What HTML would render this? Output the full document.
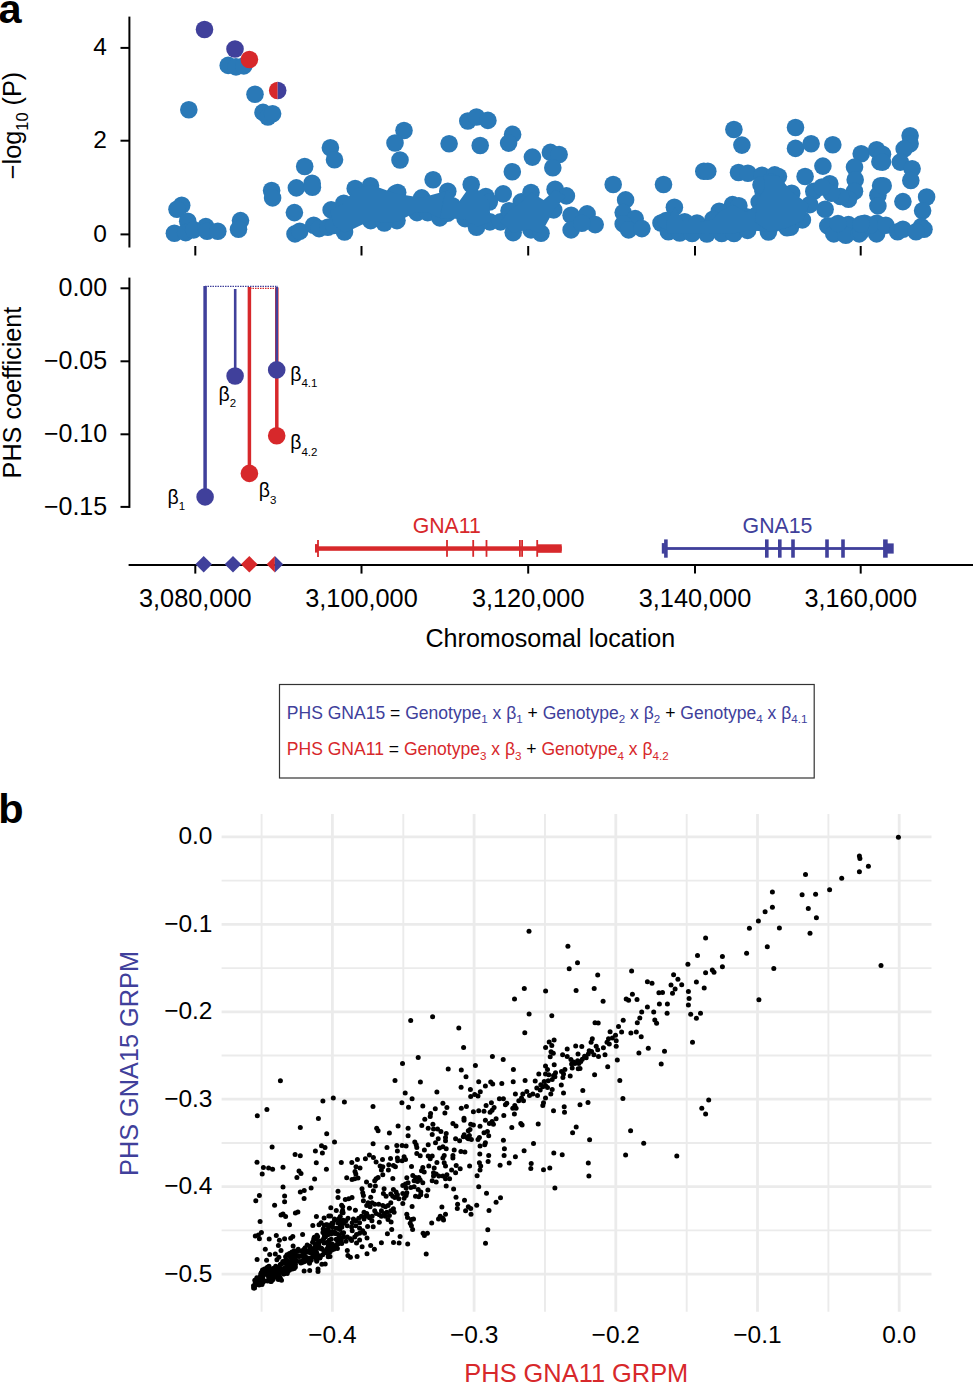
<!DOCTYPE html>
<html><head><meta charset="utf-8"><title>figure</title>
<style>html,body{margin:0;padding:0;background:#fff;width:973px;height:1383px;overflow:hidden}</style>
</head><body>
<svg width="973" height="1383" viewBox="0 0 973 1383" style="display:block">
<g font-family='"Liberation Sans", sans-serif'>
<text x="-1.5" y="23" font-size="41.5" font-weight="bold">a</text>
<text x="-1.7" y="823" font-size="41.5" font-weight="bold">b</text>
<g stroke="#000" stroke-width="2" fill="none">
<line x1="129.4" y1="16.6" x2="129.4" y2="247.5"/>
<line x1="120.5" y1="47.9" x2="129.3" y2="47.9"/>
<line x1="120.5" y1="140.7" x2="129.3" y2="140.7"/>
<line x1="120.5" y1="234.4" x2="129.3" y2="234.4"/>
<line x1="195.3" y1="246" x2="195.3" y2="255.5"/>
<line x1="361.5" y1="246" x2="361.5" y2="255.5"/>
<line x1="528.2" y1="246" x2="528.2" y2="255.5"/>
<line x1="695" y1="246" x2="695" y2="255.5"/>
<line x1="860.7" y1="246" x2="860.7" y2="255.5"/>
</g>
<g font-size="24.5" text-anchor="end">
<text x="106.9" y="55.2">4</text>
<text x="106.9" y="148.3">2</text>
<text x="106.9" y="242.0">0</text>
</g>
<text transform="translate(20.7,179.2) rotate(-90)" font-size="25.3">−log<tspan font-size="16.3" dy="7.4">10</tspan><tspan dy="-7.4"> (P)</tspan></text>
<g stroke="#000" stroke-width="2" fill="none">
<line x1="129.4" y1="277.6" x2="129.4" y2="507.9"/>
<line x1="120.5" y1="288.3" x2="129.3" y2="288.3"/>
<line x1="120.5" y1="361.3" x2="129.3" y2="361.3"/>
<line x1="120.5" y1="434.3" x2="129.3" y2="434.3"/>
<line x1="120.5" y1="506.9" x2="129.3" y2="506.9"/>
<line x1="128.6" y1="565" x2="973" y2="565" stroke-width="2"/>
<line x1="195.3" y1="565" x2="195.3" y2="573.6"/>
<line x1="361.5" y1="565" x2="361.5" y2="573.6"/>
<line x1="528.2" y1="565" x2="528.2" y2="573.6"/>
<line x1="695" y1="565" x2="695" y2="573.6"/>
<line x1="860.7" y1="565" x2="860.7" y2="573.6"/>
</g>
<g font-size="25" text-anchor="end">
<text x="107.2" y="296.2">0.00</text>
<text x="107.2" y="369.2">−0.05</text>
<text x="107.2" y="442.2">−0.10</text>
<text x="107.2" y="514.8">−0.15</text>
</g>
<text transform="translate(20.9,392.5) rotate(-90)" font-size="25.2" text-anchor="middle">PHS coefficient</text>
<g font-size="25.3" text-anchor="middle">
<text x="195.3" y="606.8">3,080,000</text>
<text x="361.5" y="606.8">3,100,000</text>
<text x="528.2" y="606.8">3,120,000</text>
<text x="695" y="606.8">3,140,000</text>
<text x="860.7" y="606.8">3,160,000</text>
<text x="550.3" y="646.7" font-size="25.1">Chromosomal location</text>
</g>
<line x1="205" y1="286.3" x2="278" y2="286.3" stroke="#40409b" stroke-width="1.2" stroke-dasharray="1.5 1"/>
<line x1="250" y1="288.3" x2="277.5" y2="288.3" stroke="#d7282b" stroke-width="1.2" stroke-dasharray="1.5 1"/>
<line x1="205.1" y1="286" x2="205.1" y2="497" stroke="#40409b" stroke-width="3.5"/>
<line x1="235.2" y1="289" x2="235.2" y2="376" stroke="#40409b" stroke-width="2.6"/>
<line x1="249.4" y1="287" x2="249.4" y2="473.4" stroke="#d7282b" stroke-width="3.5"/>
<line x1="276.8" y1="287.5" x2="276.8" y2="436" stroke="#d7282b" stroke-width="3.5"/>
<line x1="276.8" y1="287" x2="276.8" y2="370" stroke="#40409b" stroke-width="2.5"/>
<circle cx="205.1" cy="496.9" r="8.8" fill="#40409b"/>
<circle cx="235.1" cy="376" r="8.8" fill="#40409b"/>
<circle cx="249.4" cy="473.4" r="8.8" fill="#d7282b"/>
<circle cx="276.7" cy="369.9" r="8.8" fill="#40409b"/>
<circle cx="276.7" cy="435.7" r="8.8" fill="#d7282b"/>
<text x="167.5" y="503.5" font-size="19.5">β<tspan font-size="11.5" dy="6.5">1</tspan></text>
<text x="218.5" y="400.5" font-size="19.5">β<tspan font-size="11.5" dy="6.5">2</tspan></text>
<text x="258.7" y="497.3" font-size="19.5">β<tspan font-size="11.5" dy="6.5">3</tspan></text>
<text x="290.2" y="380.5" font-size="19.5">β<tspan font-size="11.5" dy="6.5">4.1</tspan></text>
<text x="290.2" y="449.3" font-size="19.5">β<tspan font-size="11.5" dy="6.5">4.2</tspan></text>
<g fill="#d7282b" stroke="none">
<rect x="318" y="546.3" width="243.7" height="4.5"/>
<rect x="315" y="544.1" width="3" height="8.5"/>
<rect x="317.1" y="540" width="1.8" height="17"/>
<rect x="446.1" y="540" width="1.8" height="16.8"/>
<rect x="472.3" y="540" width="1.8" height="16.8"/>
<rect x="485.6" y="540" width="1.8" height="16.8"/>
<rect x="519.0" y="540" width="1.8" height="16.8"/>
<rect x="521.2" y="540" width="1.8" height="16.8"/>
<rect x="536.3000000000001" y="540" width="1.8" height="16.8"/>
<rect x="537.2" y="544.3" width="24.5" height="8.5"/>
</g>
<text x="446.8" y="533" font-size="21.3" text-anchor="middle" fill="#d7282b">GNA11</text>
<g fill="#40409b" stroke="none">
<rect x="666" y="547.1" width="220" height="2.8"/>
<rect x="661.8" y="543.1" width="3" height="10.5"/>
<rect x="664.1" y="539.4" width="3.6" height="18.3"/>
<rect x="765.0" y="539.4" width="3.6" height="18.3"/>
<rect x="778.0" y="539.4" width="3.6" height="18.3"/>
<rect x="791.2" y="539.4" width="3.6" height="18.3"/>
<rect x="825.2" y="539.4" width="3.6" height="18.3"/>
<rect x="841.2" y="539.4" width="3.6" height="18.3"/>
<rect x="883.1" y="539.4" width="4.6" height="18.3"/>
<rect x="886" y="543.4" width="7.7" height="10.2"/>
</g>
<text x="777.5" y="533" font-size="21.3" text-anchor="middle" fill="#40409b">GNA15</text>
<path d="M195.39999999999998,564.3 L203.7,556.0 L212.0,564.3 L203.7,572.5999999999999 Z" fill="#40409b"/>
<path d="M224.7,564.3 L233,556.0 L241.3,564.3 L233,572.5999999999999 Z" fill="#40409b"/>
<path d="M241.0,564.3 L249.3,556.0 L257.6,564.3 L249.3,572.5999999999999 Z" fill="#d7282b"/>
<path d="M266.59999999999997,564.3 L274.9,556 L274.9,572.6 Z" fill="#d7282b"/>
<path d="M283.2,564.3 L274.9,556 L274.9,572.6 Z" fill="#40409b"/>
<rect x="279.5" y="684.5" width="534.7" height="93.5" fill="none" stroke="#333" stroke-width="1.2"/>
<text x="286.8" y="718.7" font-size="17.55" fill="#40409b">PHS GNA15 <tspan fill="#000">=</tspan> Genotype<tspan font-size="11.6" dy="4.5">1</tspan><tspan dy="-4.5"> x β<tspan font-size="11.6" dy="4.5">1</tspan><tspan dy="-4.5"> <tspan fill="#000">+</tspan> Genotype<tspan font-size="11.6" dy="4.5">2</tspan><tspan dy="-4.5"> x β<tspan font-size="11.6" dy="4.5">2</tspan><tspan dy="-4.5"> <tspan fill="#000">+</tspan> Genotype<tspan font-size="11.6" dy="4.5">4</tspan><tspan dy="-4.5"> x β<tspan font-size="11.6" dy="4.5">4.1</tspan><tspan dy="-4.5"></tspan></tspan></tspan></tspan></tspan></tspan></text>
<text x="286.8" y="755" font-size="17.55" fill="#d7282b">PHS GNA11 <tspan fill="#000">=</tspan> Genotype<tspan font-size="11.6" dy="4.5">3</tspan><tspan dy="-4.5"> x β<tspan font-size="11.6" dy="4.5">3</tspan><tspan dy="-4.5"> <tspan fill="#000">+</tspan> Genotype<tspan font-size="11.6" dy="4.5">4</tspan><tspan dy="-4.5"> x β<tspan font-size="11.6" dy="4.5">4.2</tspan><tspan dy="-4.5"></tspan></tspan></tspan></tspan></text>
<g stroke="#ebebeb" fill="none">
<line x1="221.6" y1="836.9" x2="931.5" y2="836.9" stroke-width="2.8"/>
<line x1="221.6" y1="924.4" x2="931.5" y2="924.4" stroke-width="2.8"/>
<line x1="221.6" y1="1011.8" x2="931.5" y2="1011.8" stroke-width="2.8"/>
<line x1="221.6" y1="1099.2" x2="931.5" y2="1099.2" stroke-width="2.8"/>
<line x1="221.6" y1="1186.7" x2="931.5" y2="1186.7" stroke-width="2.8"/>
<line x1="221.6" y1="1274.2" x2="931.5" y2="1274.2" stroke-width="2.8"/>
<line x1="221.6" y1="880.6" x2="931.5" y2="880.6" stroke-width="1.9"/>
<line x1="221.6" y1="968.1" x2="931.5" y2="968.1" stroke-width="1.9"/>
<line x1="221.6" y1="1055.5" x2="931.5" y2="1055.5" stroke-width="1.9"/>
<line x1="221.6" y1="1143.0" x2="931.5" y2="1143.0" stroke-width="1.9"/>
<line x1="221.6" y1="1230.4" x2="931.5" y2="1230.4" stroke-width="1.9"/>
<line x1="899.2" y1="814" x2="899.2" y2="1311.7" stroke-width="2.8"/>
<line x1="757.5" y1="814" x2="757.5" y2="1311.7" stroke-width="2.8"/>
<line x1="615.8" y1="814" x2="615.8" y2="1311.7" stroke-width="2.8"/>
<line x1="474.1" y1="814" x2="474.1" y2="1311.7" stroke-width="2.8"/>
<line x1="332.4" y1="814" x2="332.4" y2="1311.7" stroke-width="2.8"/>
<line x1="828.4" y1="814" x2="828.4" y2="1311.7" stroke-width="1.9"/>
<line x1="686.7" y1="814" x2="686.7" y2="1311.7" stroke-width="1.9"/>
<line x1="545.0" y1="814" x2="545.0" y2="1311.7" stroke-width="1.9"/>
<line x1="403.3" y1="814" x2="403.3" y2="1311.7" stroke-width="1.9"/>
<line x1="261.6" y1="814" x2="261.6" y2="1311.7" stroke-width="1.9"/>
</g>
<g font-size="24.5" text-anchor="end">
<text x="212.5" y="844.3">0.0</text>
<text x="212.5" y="931.8">−0.1</text>
<text x="212.5" y="1019.2">−0.2</text>
<text x="212.5" y="1106.7">−0.3</text>
<text x="212.5" y="1194.1">−0.4</text>
<text x="212.5" y="1281.6">−0.5</text>
</g>
<g font-size="24.5" text-anchor="middle">
<text x="899.2" y="1342.6">0.0</text>
<text x="757.5" y="1342.6">−0.1</text>
<text x="615.8" y="1342.6">−0.2</text>
<text x="474.1" y="1342.6">−0.3</text>
<text x="332.4" y="1342.6">−0.4</text>
</g>
<text transform="translate(138,1063.5) rotate(-90)" font-size="25.3" text-anchor="middle" fill="#40409b">PHS GNA15 GRPM</text>
<text x="576.3" y="1382" font-size="25.4" text-anchor="middle" fill="#d7282b">PHS GNA11 GRPM</text>
<g fill="#2a79b7">
<circle cx="228.2" cy="65.4" r="8.8"/>
<circle cx="236.0" cy="66.9" r="8.8"/>
<circle cx="243.8" cy="65.9" r="8.8"/>
<circle cx="255.0" cy="94.2" r="8.8"/>
<circle cx="263.0" cy="112.4" r="8.8"/>
<circle cx="267.9" cy="117.0" r="8.8"/>
<circle cx="272.6" cy="113.7" r="8.8"/>
<circle cx="188.8" cy="109.7" r="8.8"/>
<circle cx="271.6" cy="190.5" r="8.8"/>
<circle cx="272.6" cy="197.9" r="8.8"/>
<circle cx="181.7" cy="205.2" r="8.8"/>
<circle cx="177.0" cy="209.2" r="8.8"/>
<circle cx="187.7" cy="221.3" r="8.8"/>
<circle cx="174.4" cy="233.3" r="8.8"/>
<circle cx="185.7" cy="232.6" r="8.8"/>
<circle cx="193.7" cy="229.9" r="8.8"/>
<circle cx="205.8" cy="226.6" r="8.8"/>
<circle cx="207.1" cy="231.3" r="8.8"/>
<circle cx="217.8" cy="231.3" r="8.8"/>
<circle cx="240.5" cy="220.6" r="8.8"/>
<circle cx="238.5" cy="229.3" r="8.8"/>
<circle cx="330.4" cy="147.8" r="8.8"/>
<circle cx="334.5" cy="159.8" r="8.8"/>
<circle cx="304.7" cy="166.5" r="8.8"/>
<circle cx="296.4" cy="187.9" r="8.8"/>
<circle cx="312.1" cy="183.2" r="8.8"/>
<circle cx="312.4" cy="187.2" r="8.8"/>
<circle cx="294.4" cy="212.6" r="8.8"/>
<circle cx="295.0" cy="233.9" r="8.8"/>
<circle cx="299.7" cy="231.3" r="8.8"/>
<circle cx="313.7" cy="225.3" r="8.8"/>
<circle cx="319.1" cy="228.6" r="8.8"/>
<circle cx="327.8" cy="227.3" r="8.8"/>
<circle cx="331.1" cy="209.9" r="8.8"/>
<circle cx="343.8" cy="203.2" r="8.8"/>
<circle cx="344.5" cy="232.0" r="8.8"/>
<circle cx="355.2" cy="188.5" r="8.8"/>
<circle cx="370.5" cy="185.8" r="8.8"/>
<circle cx="361.8" cy="197.9" r="8.8"/>
<circle cx="404.0" cy="130.5" r="8.8"/>
<circle cx="395.0" cy="143.0" r="8.8"/>
<circle cx="400.0" cy="160.0" r="8.8"/>
<circle cx="395.2" cy="193.9" r="8.8"/>
<circle cx="449.1" cy="143.8" r="8.8"/>
<circle cx="467.8" cy="121.0" r="8.8"/>
<circle cx="476.5" cy="117.0" r="8.8"/>
<circle cx="487.9" cy="120.4" r="8.8"/>
<circle cx="480.2" cy="145.5" r="8.8"/>
<circle cx="512.6" cy="134.4" r="8.8"/>
<circle cx="508.6" cy="143.1" r="8.8"/>
<circle cx="532.4" cy="157.1" r="8.8"/>
<circle cx="512.3" cy="171.8" r="8.8"/>
<circle cx="433.1" cy="179.8" r="8.8"/>
<circle cx="471.2" cy="184.5" r="8.8"/>
<circle cx="447.8" cy="191.2" r="8.8"/>
<circle cx="503.2" cy="193.9" r="8.8"/>
<circle cx="485.8" cy="196.5" r="8.8"/>
<circle cx="421.7" cy="197.9" r="8.8"/>
<circle cx="397.7" cy="192.5" r="8.8"/>
<circle cx="397.0" cy="220.6" r="8.8"/>
<circle cx="417.0" cy="212.6" r="8.8"/>
<circle cx="427.7" cy="212.6" r="8.8"/>
<circle cx="439.8" cy="217.9" r="8.8"/>
<circle cx="451.1" cy="208.6" r="8.8"/>
<circle cx="465.1" cy="218.6" r="8.8"/>
<circle cx="476.5" cy="227.3" r="8.8"/>
<circle cx="489.9" cy="221.9" r="8.8"/>
<circle cx="500.5" cy="221.9" r="8.8"/>
<circle cx="513.2" cy="232.6" r="8.8"/>
<circle cx="443.1" cy="201.9" r="8.8"/>
<circle cx="521.3" cy="201.9" r="8.8"/>
<circle cx="550.4" cy="152.4" r="8.8"/>
<circle cx="559.1" cy="154.5" r="8.8"/>
<circle cx="552.8" cy="167.8" r="8.8"/>
<circle cx="531.0" cy="192.5" r="8.8"/>
<circle cx="555.1" cy="189.2" r="8.8"/>
<circle cx="566.4" cy="195.9" r="8.8"/>
<circle cx="613.2" cy="184.5" r="8.8"/>
<circle cx="625.6" cy="199.9" r="8.8"/>
<circle cx="623.2" cy="212.6" r="8.8"/>
<circle cx="635.2" cy="218.6" r="8.8"/>
<circle cx="623.2" cy="223.9" r="8.8"/>
<circle cx="628.6" cy="229.9" r="8.8"/>
<circle cx="641.9" cy="228.6" r="8.8"/>
<circle cx="523.0" cy="204.6" r="8.8"/>
<circle cx="532.4" cy="208.6" r="8.8"/>
<circle cx="541.7" cy="211.2" r="8.8"/>
<circle cx="553.7" cy="209.9" r="8.8"/>
<circle cx="531.0" cy="229.9" r="8.8"/>
<circle cx="541.0" cy="233.3" r="8.8"/>
<circle cx="523.0" cy="219.2" r="8.8"/>
<circle cx="571.1" cy="215.2" r="8.8"/>
<circle cx="571.1" cy="229.9" r="8.8"/>
<circle cx="587.1" cy="213.9" r="8.8"/>
<circle cx="595.2" cy="224.6" r="8.8"/>
<circle cx="581.8" cy="223.3" r="8.8"/>
<circle cx="733.9" cy="129.5" r="8.8"/>
<circle cx="741.9" cy="145.1" r="8.8"/>
<circle cx="703.8" cy="171.2" r="8.8"/>
<circle cx="707.8" cy="171.2" r="8.8"/>
<circle cx="663.5" cy="184.5" r="8.8"/>
<circle cx="738.5" cy="172.5" r="8.8"/>
<circle cx="747.9" cy="173.2" r="8.8"/>
<circle cx="761.9" cy="175.2" r="8.8"/>
<circle cx="674.4" cy="207.2" r="8.8"/>
<circle cx="732.5" cy="204.6" r="8.8"/>
<circle cx="719.2" cy="211.2" r="8.8"/>
<circle cx="759.2" cy="201.9" r="8.8"/>
<circle cx="795.5" cy="127.5" r="8.8"/>
<circle cx="795.5" cy="148.4" r="8.8"/>
<circle cx="811.1" cy="143.8" r="8.8"/>
<circle cx="832.8" cy="144.7" r="8.8"/>
<circle cx="822.9" cy="166.1" r="8.8"/>
<circle cx="805.1" cy="176.5" r="8.8"/>
<circle cx="778.4" cy="176.5" r="8.8"/>
<circle cx="791.7" cy="193.2" r="8.8"/>
<circle cx="763.0" cy="191.2" r="8.8"/>
<circle cx="829.8" cy="183.8" r="8.8"/>
<circle cx="813.8" cy="191.2" r="8.8"/>
<circle cx="825.1" cy="209.2" r="8.8"/>
<circle cx="809.8" cy="204.6" r="8.8"/>
<circle cx="802.4" cy="219.9" r="8.8"/>
<circle cx="768.4" cy="232.0" r="8.8"/>
<circle cx="790.4" cy="227.3" r="8.8"/>
<circle cx="861.2" cy="153.8" r="8.8"/>
<circle cx="876.6" cy="149.8" r="8.8"/>
<circle cx="879.9" cy="161.8" r="8.8"/>
<circle cx="854.5" cy="167.1" r="8.8"/>
<circle cx="855.2" cy="179.8" r="8.8"/>
<circle cx="854.5" cy="191.2" r="8.8"/>
<circle cx="848.5" cy="199.2" r="8.8"/>
<circle cx="840.5" cy="196.5" r="8.8"/>
<circle cx="880.6" cy="185.8" r="8.8"/>
<circle cx="877.9" cy="195.2" r="8.8"/>
<circle cx="877.9" cy="205.9" r="8.8"/>
<circle cx="827.8" cy="225.9" r="8.8"/>
<circle cx="833.8" cy="233.9" r="8.8"/>
<circle cx="848.5" cy="224.6" r="8.8"/>
<circle cx="845.8" cy="235.3" r="8.8"/>
<circle cx="859.2" cy="233.9" r="8.8"/>
<circle cx="864.6" cy="223.3" r="8.8"/>
<circle cx="876.6" cy="223.3" r="8.8"/>
<circle cx="876.6" cy="233.9" r="8.8"/>
<circle cx="910.1" cy="135.8" r="8.8"/>
<circle cx="910.1" cy="143.7" r="8.8"/>
<circle cx="904.2" cy="148.9" r="8.8"/>
<circle cx="900.3" cy="162.1" r="8.8"/>
<circle cx="912.1" cy="168.7" r="8.8"/>
<circle cx="910.8" cy="180.5" r="8.8"/>
<circle cx="882.5" cy="154.2" r="8.8"/>
<circle cx="882.5" cy="162.1" r="8.8"/>
<circle cx="883.2" cy="185.8" r="8.8"/>
<circle cx="902.9" cy="201.6" r="8.8"/>
<circle cx="926.6" cy="197.0" r="8.8"/>
<circle cx="922.6" cy="210.8" r="8.8"/>
<circle cx="921.3" cy="226.6" r="8.8"/>
<circle cx="924.0" cy="229.2" r="8.8"/>
<circle cx="860.8" cy="231.8" r="8.8"/>
<circle cx="870.0" cy="225.3" r="8.8"/>
<circle cx="885.8" cy="225.3" r="8.8"/>
<circle cx="897.6" cy="231.8" r="8.8"/>
<circle cx="902.9" cy="229.2" r="8.8"/>
<circle cx="916.0" cy="231.8" r="8.8"/>
<circle cx="370.7" cy="220.6" r="8.8"/>
<circle cx="384.3" cy="223.0" r="8.8"/>
<circle cx="359.6" cy="215.6" r="8.8"/>
<circle cx="333.7" cy="225.5" r="8.8"/>
<circle cx="375.6" cy="199.6" r="8.8"/>
<circle cx="383.0" cy="207.0" r="8.8"/>
<circle cx="399.0" cy="204.5" r="8.8"/>
<circle cx="409.0" cy="205.8" r="8.8"/>
<circle cx="364.5" cy="207.0" r="8.8"/>
<circle cx="516.5" cy="216.9" r="8.8"/>
<circle cx="533.7" cy="216.9" r="8.8"/>
<circle cx="452.3" cy="205.8" r="8.8"/>
<circle cx="468.4" cy="205.8" r="8.8"/>
<circle cx="480.7" cy="207.0" r="8.8"/>
<circle cx="509.0" cy="210.7" r="8.8"/>
<circle cx="489.3" cy="202.0" r="8.8"/>
<circle cx="447.4" cy="213.2" r="8.8"/>
<circle cx="661.0" cy="223.0" r="8.8"/>
<circle cx="668.4" cy="231.7" r="8.8"/>
<circle cx="774.7" cy="174.9" r="8.8"/>
<circle cx="738.9" cy="205.7" r="8.8"/>
<circle cx="771.0" cy="182.3" r="8.8"/>
<circle cx="679.7" cy="233.0" r="8.8"/>
<circle cx="692.1" cy="233.5" r="8.8"/>
<circle cx="706.9" cy="234.0" r="8.8"/>
<circle cx="721.7" cy="233.5" r="8.8"/>
<circle cx="734.0" cy="233.5" r="8.8"/>
<circle cx="747.6" cy="230.4" r="8.8"/>
<circle cx="666.2" cy="220.5" r="8.8"/>
<circle cx="684.7" cy="221.7" r="8.8"/>
<circle cx="697.0" cy="223.0" r="8.8"/>
<circle cx="713.0" cy="219.3" r="8.8"/>
<circle cx="729.1" cy="218.0" r="8.8"/>
<circle cx="746.3" cy="216.8" r="8.8"/>
<circle cx="762.4" cy="216.8" r="8.8"/>
<circle cx="774.7" cy="223.0" r="8.8"/>
<circle cx="831.4" cy="193.3" r="8.8"/>
<circle cx="768.5" cy="194.5" r="8.8"/>
<circle cx="764.8" cy="188.4" r="8.8"/>
<circle cx="774.7" cy="209.3" r="8.8"/>
<circle cx="790.7" cy="208.1" r="8.8"/>
<circle cx="754.9" cy="221.7" r="8.8"/>
<circle cx="787.0" cy="227.8" r="8.8"/>
<circle cx="778.4" cy="218.0" r="8.8"/>
<circle cx="861.0" cy="224.1" r="8.8"/>
<circle cx="761.0" cy="184.7" r="8.8"/>
<circle cx="838.0" cy="223.5" r="8.8"/>
<circle cx="822.0" cy="187.0" r="8.8"/>
<path d="M330,210.7 L343.6,203.3 L355.3,188.5 L371.3,184.8 L395.4,193.4 L421.3,197.8 L445.9,191 L442.2,203.3 L439.8,218.1 L427.4,212.5 L416.3,211.9 L397.2,221.8 L384.3,223 L370.7,220.6 L344.8,232.9 L333.7,225.5 Z"/>
<path d="M445.9,191 L448,190.4 L458,203 L471.4,184.2 L485.6,196.5 L489.3,202 L490.6,221.8 L477,226.7 L464.7,219.3 L440,218.1 Z"/>
<path d="M509,210.7 L521.4,202.1 L531.3,192.2 L543.6,200 L555.3,189.7 L566,195.9 L554.3,209.5 L541.1,233.5 L528.8,229.2 L512.8,232.9 L500.4,221.8 Z"/>
<path d="M666.2,222 L674.8,206.9 L684,222 L700,222 L713,219.3 L719.2,211.9 L732.8,204.5 L746,212 L759.9,202 L764.8,189.7 L771,182.3 L778.4,176 L791.9,192.1 L790.7,208.1 L803,220.4 L787,227.8 L768.5,231.5 L747.6,230.4 L734,233.5 L706.9,234 L679.7,233 L667.4,233.5 Z"/>
<path d="M757.4,200.7 L764.8,188.4 L763.6,174.8 L778.4,176 L791.9,192.1 L809.2,204.4 L803,220.4 L787,227.8 L768.5,231.5 L754.9,221.7 Z"/>
</g>
<circle cx="204.5" cy="29.5" r="8.8" fill="#40409b"/>
<circle cx="235" cy="49" r="8.8" fill="#40409b"/>
<circle cx="249.4" cy="59.5" r="8.8" fill="#d7282b"/>
<path d="M277.7,81.7 A8.8,8.8 0 0 0 277.7,99.3 Z" fill="#d7282b"/>
<path d="M277.7,81.7 A8.8,8.8 0 0 1 277.7,99.3 Z" fill="#40409b"/>
<g fill="#000">
<circle cx="898.4" cy="837.3" r="2.5"/>
<circle cx="859.4" cy="856.1" r="2.5"/>
<circle cx="859.9" cy="858.4" r="2.5"/>
<circle cx="868.4" cy="866.2" r="2.5"/>
<circle cx="859.4" cy="871.8" r="2.5"/>
<circle cx="841.7" cy="878.3" r="2.5"/>
<circle cx="805.5" cy="874.4" r="2.5"/>
<circle cx="829.6" cy="889.8" r="2.5"/>
<circle cx="772.4" cy="892.0" r="2.5"/>
<circle cx="802.1" cy="894.8" r="2.5"/>
<circle cx="815.6" cy="894.3" r="2.5"/>
<circle cx="772.4" cy="907.2" r="2.5"/>
<circle cx="765.1" cy="911.7" r="2.5"/>
<circle cx="808.3" cy="908.6" r="2.5"/>
<circle cx="816.4" cy="917.8" r="2.5"/>
<circle cx="758.4" cy="920.9" r="2.5"/>
<circle cx="749.4" cy="928.2" r="2.5"/>
<circle cx="779.4" cy="927.9" r="2.5"/>
<circle cx="810.0" cy="933.3" r="2.5"/>
<circle cx="705.6" cy="938.0" r="2.5"/>
<circle cx="767.3" cy="946.7" r="2.5"/>
<circle cx="746.6" cy="953.2" r="2.5"/>
<circle cx="722.4" cy="956.6" r="2.5"/>
<circle cx="722.4" cy="966.7" r="2.5"/>
<circle cx="712.3" cy="970.0" r="2.5"/>
<circle cx="714.0" cy="972.3" r="2.5"/>
<circle cx="705.6" cy="972.8" r="2.5"/>
<circle cx="773.8" cy="968.4" r="2.5"/>
<circle cx="881.0" cy="965.5" r="2.5"/>
<circle cx="704.2" cy="988.0" r="2.5"/>
<circle cx="758.9" cy="999.8" r="2.5"/>
<circle cx="697.5" cy="955.5" r="2.5"/>
<circle cx="687.9" cy="964.2" r="2.5"/>
<circle cx="673.6" cy="974.7" r="2.5"/>
<circle cx="677.9" cy="979.3" r="2.5"/>
<circle cx="681.7" cy="984.7" r="2.5"/>
<circle cx="671.0" cy="985.1" r="2.5"/>
<circle cx="675.1" cy="988.9" r="2.5"/>
<circle cx="672.5" cy="993.2" r="2.5"/>
<circle cx="696.4" cy="982.0" r="2.5"/>
<circle cx="688.4" cy="991.4" r="2.5"/>
<circle cx="689.1" cy="998.6" r="2.5"/>
<circle cx="688.4" cy="1005.1" r="2.5"/>
<circle cx="690.7" cy="1014.3" r="2.5"/>
<circle cx="696.4" cy="1018.3" r="2.5"/>
<circle cx="700.5" cy="1013.3" r="2.5"/>
<circle cx="631.6" cy="970.9" r="2.5"/>
<circle cx="647.4" cy="981.7" r="2.5"/>
<circle cx="652.0" cy="983.2" r="2.5"/>
<circle cx="658.9" cy="992.8" r="2.5"/>
<circle cx="662.5" cy="992.5" r="2.5"/>
<circle cx="632.4" cy="994.3" r="2.5"/>
<circle cx="626.2" cy="999.1" r="2.5"/>
<circle cx="628.6" cy="1000.2" r="2.5"/>
<circle cx="637.0" cy="999.4" r="2.5"/>
<circle cx="659.4" cy="1004.0" r="2.5"/>
<circle cx="667.4" cy="1004.0" r="2.5"/>
<circle cx="667.1" cy="1013.3" r="2.5"/>
<circle cx="647.4" cy="1007.1" r="2.5"/>
<circle cx="641.7" cy="1012.0" r="2.5"/>
<circle cx="653.7" cy="1012.0" r="2.5"/>
<circle cx="639.8" cy="1017.9" r="2.5"/>
<circle cx="637.3" cy="1022.8" r="2.5"/>
<circle cx="654.8" cy="1019.9" r="2.5"/>
<circle cx="656.6" cy="1023.3" r="2.5"/>
<circle cx="597.7" cy="975.0" r="2.5"/>
<circle cx="594.2" cy="988.6" r="2.5"/>
<circle cx="603.1" cy="1001.2" r="2.5"/>
<circle cx="595.0" cy="1022.8" r="2.5"/>
<circle cx="598.2" cy="1023.0" r="2.5"/>
<circle cx="623.2" cy="1020.2" r="2.5"/>
<circle cx="618.5" cy="1026.4" r="2.5"/>
<circle cx="610.1" cy="1031.8" r="2.5"/>
<circle cx="621.6" cy="1032.1" r="2.5"/>
<circle cx="630.9" cy="1033.0" r="2.5"/>
<circle cx="636.3" cy="1032.1" r="2.5"/>
<circle cx="641.2" cy="1036.7" r="2.5"/>
<circle cx="615.5" cy="1035.3" r="2.5"/>
<circle cx="612.4" cy="1037.9" r="2.5"/>
<circle cx="608.5" cy="1038.7" r="2.5"/>
<circle cx="592.3" cy="1038.7" r="2.5"/>
<circle cx="529.0" cy="931.3" r="2.5"/>
<circle cx="567.9" cy="946.3" r="2.5"/>
<circle cx="577.5" cy="962.8" r="2.5"/>
<circle cx="569.2" cy="968.8" r="2.5"/>
<circle cx="524.3" cy="988.6" r="2.5"/>
<circle cx="545.6" cy="990.9" r="2.5"/>
<circle cx="576.1" cy="990.6" r="2.5"/>
<circle cx="514.5" cy="999.0" r="2.5"/>
<circle cx="432.6" cy="1016.8" r="2.5"/>
<circle cx="529.1" cy="1014.0" r="2.5"/>
<circle cx="551.8" cy="1015.8" r="2.5"/>
<circle cx="458.8" cy="1027.9" r="2.5"/>
<circle cx="524.8" cy="1032.8" r="2.5"/>
<circle cx="463.6" cy="1047.4" r="2.5"/>
<circle cx="554.1" cy="1039.9" r="2.5"/>
<circle cx="549.2" cy="1042.0" r="2.5"/>
<circle cx="551.8" cy="1045.6" r="2.5"/>
<circle cx="545.6" cy="1047.4" r="2.5"/>
<circle cx="567.2" cy="1049.0" r="2.5"/>
<circle cx="575.7" cy="1046.1" r="2.5"/>
<circle cx="551.0" cy="1051.8" r="2.5"/>
<circle cx="553.3" cy="1053.3" r="2.5"/>
<circle cx="550.2" cy="1056.7" r="2.5"/>
<circle cx="492.4" cy="1056.4" r="2.5"/>
<circle cx="503.2" cy="1059.5" r="2.5"/>
<circle cx="562.6" cy="1054.8" r="2.5"/>
<circle cx="567.2" cy="1056.4" r="2.5"/>
<circle cx="578.0" cy="1054.1" r="2.5"/>
<circle cx="607.0" cy="1042.3" r="2.5"/>
<circle cx="609.3" cy="1043.9" r="2.5"/>
<circle cx="616.2" cy="1040.8" r="2.5"/>
<circle cx="616.2" cy="1046.2" r="2.5"/>
<circle cx="591.1" cy="1042.3" r="2.5"/>
<circle cx="581.8" cy="1046.6" r="2.5"/>
<circle cx="596.2" cy="1046.2" r="2.5"/>
<circle cx="597.7" cy="1049.7" r="2.5"/>
<circle cx="603.4" cy="1047.7" r="2.5"/>
<circle cx="589.2" cy="1050.8" r="2.5"/>
<circle cx="591.6" cy="1051.6" r="2.5"/>
<circle cx="593.9" cy="1054.7" r="2.5"/>
<circle cx="598.5" cy="1056.5" r="2.5"/>
<circle cx="605.0" cy="1054.7" r="2.5"/>
<circle cx="584.6" cy="1056.2" r="2.5"/>
<circle cx="586.2" cy="1057.7" r="2.5"/>
<circle cx="582.3" cy="1059.3" r="2.5"/>
<circle cx="580.8" cy="1061.6" r="2.5"/>
<circle cx="580.0" cy="1068.5" r="2.5"/>
<circle cx="648.3" cy="1048.2" r="2.5"/>
<circle cx="638.9" cy="1053.1" r="2.5"/>
<circle cx="664.5" cy="1051.3" r="2.5"/>
<circle cx="692.5" cy="1042.3" r="2.5"/>
<circle cx="617.3" cy="1060.1" r="2.5"/>
<circle cx="607.7" cy="1066.7" r="2.5"/>
<circle cx="661.2" cy="1063.9" r="2.5"/>
<circle cx="594.6" cy="1074.7" r="2.5"/>
<circle cx="619.8" cy="1080.4" r="2.5"/>
<circle cx="582.8" cy="1090.6" r="2.5"/>
<circle cx="622.9" cy="1098.6" r="2.5"/>
<circle cx="588.0" cy="1102.5" r="2.5"/>
<circle cx="580.0" cy="1104.8" r="2.5"/>
<circle cx="708.7" cy="1100.1" r="2.5"/>
<circle cx="701.8" cy="1108.2" r="2.5"/>
<circle cx="705.6" cy="1114.0" r="2.5"/>
<circle cx="630.6" cy="1130.7" r="2.5"/>
<circle cx="589.6" cy="1139.8" r="2.5"/>
<circle cx="643.7" cy="1143.3" r="2.5"/>
<circle cx="570.9" cy="1059.4" r="2.5"/>
<circle cx="573.6" cy="1062.1" r="2.5"/>
<circle cx="577.6" cy="1060.7" r="2.5"/>
<circle cx="588.3" cy="1054.0" r="2.5"/>
<circle cx="571.6" cy="1064.1" r="2.5"/>
<circle cx="574.9" cy="1063.4" r="2.5"/>
<circle cx="578.9" cy="1063.4" r="2.5"/>
<circle cx="572.2" cy="1068.1" r="2.5"/>
<circle cx="578.2" cy="1068.7" r="2.5"/>
<circle cx="475.4" cy="1065.4" r="2.5"/>
<circle cx="461.3" cy="1070.1" r="2.5"/>
<circle cx="513.4" cy="1069.4" r="2.5"/>
<circle cx="545.5" cy="1066.1" r="2.5"/>
<circle cx="547.5" cy="1069.4" r="2.5"/>
<circle cx="554.2" cy="1064.7" r="2.5"/>
<circle cx="466.0" cy="1076.8" r="2.5"/>
<circle cx="538.8" cy="1074.1" r="2.5"/>
<circle cx="545.5" cy="1074.1" r="2.5"/>
<circle cx="548.8" cy="1074.8" r="2.5"/>
<circle cx="553.5" cy="1075.4" r="2.5"/>
<circle cx="555.5" cy="1072.8" r="2.5"/>
<circle cx="561.5" cy="1071.4" r="2.5"/>
<circle cx="564.9" cy="1069.4" r="2.5"/>
<circle cx="563.5" cy="1074.1" r="2.5"/>
<circle cx="562.9" cy="1077.4" r="2.5"/>
<circle cx="570.2" cy="1076.1" r="2.5"/>
<circle cx="478.7" cy="1081.8" r="2.5"/>
<circle cx="490.7" cy="1082.1" r="2.5"/>
<circle cx="492.7" cy="1084.1" r="2.5"/>
<circle cx="485.4" cy="1086.1" r="2.5"/>
<circle cx="501.8" cy="1083.4" r="2.5"/>
<circle cx="513.2" cy="1081.8" r="2.5"/>
<circle cx="525.1" cy="1080.4" r="2.5"/>
<circle cx="535.2" cy="1081.0" r="2.5"/>
<circle cx="544.2" cy="1081.4" r="2.5"/>
<circle cx="548.2" cy="1080.8" r="2.5"/>
<circle cx="552.2" cy="1079.4" r="2.5"/>
<circle cx="554.9" cy="1076.8" r="2.5"/>
<circle cx="540.8" cy="1084.8" r="2.5"/>
<circle cx="542.8" cy="1086.8" r="2.5"/>
<circle cx="545.5" cy="1085.4" r="2.5"/>
<circle cx="536.8" cy="1088.1" r="2.5"/>
<circle cx="540.2" cy="1090.1" r="2.5"/>
<circle cx="547.5" cy="1087.4" r="2.5"/>
<circle cx="552.2" cy="1089.5" r="2.5"/>
<circle cx="561.3" cy="1085.0" r="2.5"/>
<circle cx="461.1" cy="1087.2" r="2.5"/>
<circle cx="470.4" cy="1089.5" r="2.5"/>
<circle cx="480.3" cy="1091.7" r="2.5"/>
<circle cx="474.7" cy="1094.4" r="2.5"/>
<circle cx="478.0" cy="1096.1" r="2.5"/>
<circle cx="470.7" cy="1096.5" r="2.5"/>
<circle cx="515.4" cy="1094.1" r="2.5"/>
<circle cx="522.8" cy="1094.1" r="2.5"/>
<circle cx="526.8" cy="1091.5" r="2.5"/>
<circle cx="529.5" cy="1095.5" r="2.5"/>
<circle cx="532.8" cy="1094.1" r="2.5"/>
<circle cx="537.5" cy="1095.5" r="2.5"/>
<circle cx="550.8" cy="1094.1" r="2.5"/>
<circle cx="563.5" cy="1093.1" r="2.5"/>
<circle cx="499.4" cy="1098.8" r="2.5"/>
<circle cx="503.4" cy="1098.8" r="2.5"/>
<circle cx="521.5" cy="1098.1" r="2.5"/>
<circle cx="518.8" cy="1100.8" r="2.5"/>
<circle cx="523.5" cy="1100.8" r="2.5"/>
<circle cx="545.5" cy="1098.1" r="2.5"/>
<circle cx="491.4" cy="1102.8" r="2.5"/>
<circle cx="506.8" cy="1103.2" r="2.5"/>
<circle cx="505.4" cy="1104.8" r="2.5"/>
<circle cx="543.5" cy="1102.8" r="2.5"/>
<circle cx="542.8" cy="1105.5" r="2.5"/>
<circle cx="466.4" cy="1106.4" r="2.5"/>
<circle cx="486.1" cy="1105.5" r="2.5"/>
<circle cx="494.1" cy="1107.5" r="2.5"/>
<circle cx="492.1" cy="1110.2" r="2.5"/>
<circle cx="490.1" cy="1112.2" r="2.5"/>
<circle cx="514.8" cy="1105.5" r="2.5"/>
<circle cx="512.8" cy="1108.2" r="2.5"/>
<circle cx="516.1" cy="1108.2" r="2.5"/>
<circle cx="461.3" cy="1108.2" r="2.5"/>
<circle cx="473.4" cy="1111.8" r="2.5"/>
<circle cx="478.7" cy="1110.8" r="2.5"/>
<circle cx="484.0" cy="1111.2" r="2.5"/>
<circle cx="564.2" cy="1106.8" r="2.5"/>
<circle cx="564.5" cy="1112.2" r="2.5"/>
<circle cx="553.5" cy="1110.8" r="2.5"/>
<circle cx="514.4" cy="1113.9" r="2.5"/>
<circle cx="503.8" cy="1115.5" r="2.5"/>
<circle cx="464.0" cy="1118.2" r="2.5"/>
<circle cx="464.0" cy="1120.2" r="2.5"/>
<circle cx="485.4" cy="1120.2" r="2.5"/>
<circle cx="492.1" cy="1121.5" r="2.5"/>
<circle cx="496.1" cy="1118.8" r="2.5"/>
<circle cx="489.4" cy="1123.5" r="2.5"/>
<circle cx="493.4" cy="1124.2" r="2.5"/>
<circle cx="470.7" cy="1124.2" r="2.5"/>
<circle cx="473.4" cy="1124.9" r="2.5"/>
<circle cx="480.0" cy="1126.2" r="2.5"/>
<circle cx="520.8" cy="1123.5" r="2.5"/>
<circle cx="522.1" cy="1124.9" r="2.5"/>
<circle cx="538.2" cy="1123.9" r="2.5"/>
<circle cx="511.8" cy="1127.5" r="2.5"/>
<circle cx="576.2" cy="1126.9" r="2.5"/>
<circle cx="418.2" cy="1057.4" r="2.5"/>
<circle cx="402.5" cy="1063.4" r="2.5"/>
<circle cx="448.2" cy="1069.0" r="2.5"/>
<circle cx="395.0" cy="1080.5" r="2.5"/>
<circle cx="420.4" cy="1082.1" r="2.5"/>
<circle cx="405.2" cy="1093.1" r="2.5"/>
<circle cx="436.9" cy="1092.1" r="2.5"/>
<circle cx="412.1" cy="1098.8" r="2.5"/>
<circle cx="344.4" cy="1102.1" r="2.5"/>
<circle cx="373.0" cy="1106.4" r="2.5"/>
<circle cx="401.9" cy="1102.8" r="2.5"/>
<circle cx="408.5" cy="1107.2" r="2.5"/>
<circle cx="422.8" cy="1105.9" r="2.5"/>
<circle cx="442.9" cy="1103.2" r="2.5"/>
<circle cx="446.9" cy="1107.5" r="2.5"/>
<circle cx="435.3" cy="1108.8" r="2.5"/>
<circle cx="430.6" cy="1113.5" r="2.5"/>
<circle cx="430.2" cy="1116.6" r="2.5"/>
<circle cx="444.9" cy="1113.1" r="2.5"/>
<circle cx="424.8" cy="1119.2" r="2.5"/>
<circle cx="452.9" cy="1123.5" r="2.5"/>
<circle cx="456.0" cy="1125.9" r="2.5"/>
<circle cx="421.8" cy="1125.4" r="2.5"/>
<circle cx="432.9" cy="1124.2" r="2.5"/>
<circle cx="398.1" cy="1125.9" r="2.5"/>
<circle cx="408.1" cy="1128.2" r="2.5"/>
<circle cx="376.7" cy="1128.2" r="2.5"/>
<circle cx="428.2" cy="1128.2" r="2.5"/>
<circle cx="433.5" cy="1128.9" r="2.5"/>
<circle cx="437.5" cy="1128.9" r="2.5"/>
<circle cx="378.1" cy="1130.7" r="2.5"/>
<circle cx="389.4" cy="1133.0" r="2.5"/>
<circle cx="408.1" cy="1135.8" r="2.5"/>
<circle cx="440.9" cy="1131.4" r="2.5"/>
<circle cx="432.2" cy="1134.4" r="2.5"/>
<circle cx="446.2" cy="1133.4" r="2.5"/>
<circle cx="445.5" cy="1137.4" r="2.5"/>
<circle cx="445.5" cy="1140.7" r="2.5"/>
<circle cx="438.2" cy="1138.7" r="2.5"/>
<circle cx="435.5" cy="1142.7" r="2.5"/>
<circle cx="464.2" cy="1134.7" r="2.5"/>
<circle cx="468.3" cy="1130.7" r="2.5"/>
<circle cx="466.9" cy="1137.4" r="2.5"/>
<circle cx="455.6" cy="1138.7" r="2.5"/>
<circle cx="459.6" cy="1140.7" r="2.5"/>
<circle cx="468.3" cy="1138.7" r="2.5"/>
<circle cx="373.1" cy="1143.8" r="2.5"/>
<circle cx="387.0" cy="1147.4" r="2.5"/>
<circle cx="396.8" cy="1145.4" r="2.5"/>
<circle cx="402.1" cy="1145.4" r="2.5"/>
<circle cx="406.1" cy="1146.1" r="2.5"/>
<circle cx="397.4" cy="1151.1" r="2.5"/>
<circle cx="414.8" cy="1142.0" r="2.5"/>
<circle cx="416.2" cy="1144.7" r="2.5"/>
<circle cx="416.8" cy="1147.4" r="2.5"/>
<circle cx="428.2" cy="1144.7" r="2.5"/>
<circle cx="424.4" cy="1150.1" r="2.5"/>
<circle cx="439.5" cy="1148.1" r="2.5"/>
<circle cx="442.9" cy="1146.7" r="2.5"/>
<circle cx="446.2" cy="1148.7" r="2.5"/>
<circle cx="454.2" cy="1150.1" r="2.5"/>
<circle cx="460.9" cy="1151.4" r="2.5"/>
<circle cx="464.9" cy="1152.1" r="2.5"/>
<circle cx="416.8" cy="1153.4" r="2.5"/>
<circle cx="420.2" cy="1155.8" r="2.5"/>
<circle cx="428.2" cy="1156.1" r="2.5"/>
<circle cx="432.2" cy="1156.1" r="2.5"/>
<circle cx="430.2" cy="1158.7" r="2.5"/>
<circle cx="444.2" cy="1155.4" r="2.5"/>
<circle cx="442.9" cy="1158.1" r="2.5"/>
<circle cx="452.9" cy="1155.4" r="2.5"/>
<circle cx="452.9" cy="1158.1" r="2.5"/>
<circle cx="369.4" cy="1155.0" r="2.5"/>
<circle cx="373.4" cy="1157.4" r="2.5"/>
<circle cx="365.4" cy="1158.7" r="2.5"/>
<circle cx="357.4" cy="1159.4" r="2.5"/>
<circle cx="341.3" cy="1162.5" r="2.5"/>
<circle cx="351.8" cy="1162.5" r="2.5"/>
<circle cx="376.1" cy="1162.1" r="2.5"/>
<circle cx="382.5" cy="1159.4" r="2.5"/>
<circle cx="390.5" cy="1158.5" r="2.5"/>
<circle cx="397.4" cy="1158.1" r="2.5"/>
<circle cx="397.7" cy="1160.7" r="2.5"/>
<circle cx="404.1" cy="1156.7" r="2.5"/>
<circle cx="405.5" cy="1159.4" r="2.5"/>
<circle cx="402.1" cy="1160.7" r="2.5"/>
<circle cx="436.9" cy="1162.5" r="2.5"/>
<circle cx="444.2" cy="1162.8" r="2.5"/>
<circle cx="445.5" cy="1166.1" r="2.5"/>
<circle cx="380.1" cy="1166.1" r="2.5"/>
<circle cx="382.8" cy="1166.8" r="2.5"/>
<circle cx="381.4" cy="1170.1" r="2.5"/>
<circle cx="388.8" cy="1164.8" r="2.5"/>
<circle cx="393.4" cy="1165.4" r="2.5"/>
<circle cx="395.4" cy="1166.8" r="2.5"/>
<circle cx="388.4" cy="1170.1" r="2.5"/>
<circle cx="411.5" cy="1166.5" r="2.5"/>
<circle cx="422.8" cy="1167.4" r="2.5"/>
<circle cx="421.5" cy="1170.8" r="2.5"/>
<circle cx="424.2" cy="1172.1" r="2.5"/>
<circle cx="428.8" cy="1166.1" r="2.5"/>
<circle cx="434.2" cy="1168.1" r="2.5"/>
<circle cx="456.2" cy="1165.4" r="2.5"/>
<circle cx="460.2" cy="1168.8" r="2.5"/>
<circle cx="455.6" cy="1172.8" r="2.5"/>
<circle cx="451.6" cy="1170.1" r="2.5"/>
<circle cx="469.6" cy="1166.1" r="2.5"/>
<circle cx="360.0" cy="1168.1" r="2.5"/>
<circle cx="356.0" cy="1166.8" r="2.5"/>
<circle cx="355.0" cy="1171.4" r="2.5"/>
<circle cx="355.8" cy="1174.1" r="2.5"/>
<circle cx="382.8" cy="1174.8" r="2.5"/>
<circle cx="346.7" cy="1177.7" r="2.5"/>
<circle cx="352.0" cy="1179.5" r="2.5"/>
<circle cx="354.7" cy="1178.8" r="2.5"/>
<circle cx="358.0" cy="1178.1" r="2.5"/>
<circle cx="376.1" cy="1178.8" r="2.5"/>
<circle cx="378.1" cy="1177.4" r="2.5"/>
<circle cx="374.7" cy="1180.8" r="2.5"/>
<circle cx="392.8" cy="1178.5" r="2.5"/>
<circle cx="406.8" cy="1177.7" r="2.5"/>
<circle cx="412.8" cy="1175.4" r="2.5"/>
<circle cx="415.5" cy="1177.4" r="2.5"/>
<circle cx="418.8" cy="1177.4" r="2.5"/>
<circle cx="414.1" cy="1180.8" r="2.5"/>
<circle cx="417.5" cy="1181.5" r="2.5"/>
<circle cx="420.2" cy="1180.1" r="2.5"/>
<circle cx="422.8" cy="1182.8" r="2.5"/>
<circle cx="433.5" cy="1172.8" r="2.5"/>
<circle cx="436.2" cy="1174.1" r="2.5"/>
<circle cx="433.5" cy="1176.1" r="2.5"/>
<circle cx="438.9" cy="1176.1" r="2.5"/>
<circle cx="442.9" cy="1176.1" r="2.5"/>
<circle cx="446.9" cy="1174.8" r="2.5"/>
<circle cx="445.5" cy="1178.8" r="2.5"/>
<circle cx="449.6" cy="1178.8" r="2.5"/>
<circle cx="432.2" cy="1180.8" r="2.5"/>
<circle cx="436.2" cy="1182.1" r="2.5"/>
<circle cx="366.5" cy="1182.1" r="2.5"/>
<circle cx="370.1" cy="1185.5" r="2.5"/>
<circle cx="375.4" cy="1186.1" r="2.5"/>
<circle cx="402.8" cy="1185.5" r="2.5"/>
<circle cx="405.5" cy="1183.9" r="2.5"/>
<circle cx="408.1" cy="1182.8" r="2.5"/>
<circle cx="406.1" cy="1188.1" r="2.5"/>
<circle cx="410.8" cy="1187.5" r="2.5"/>
<circle cx="414.1" cy="1186.8" r="2.5"/>
<circle cx="418.2" cy="1189.5" r="2.5"/>
<circle cx="420.8" cy="1192.1" r="2.5"/>
<circle cx="446.2" cy="1186.1" r="2.5"/>
<circle cx="453.6" cy="1189.1" r="2.5"/>
<circle cx="427.9" cy="1190.1" r="2.5"/>
<circle cx="362.0" cy="1188.8" r="2.5"/>
<circle cx="362.7" cy="1192.8" r="2.5"/>
<circle cx="363.4" cy="1195.5" r="2.5"/>
<circle cx="373.4" cy="1190.8" r="2.5"/>
<circle cx="384.1" cy="1188.8" r="2.5"/>
<circle cx="383.4" cy="1193.5" r="2.5"/>
<circle cx="386.1" cy="1196.2" r="2.5"/>
<circle cx="393.4" cy="1189.5" r="2.5"/>
<circle cx="396.1" cy="1192.1" r="2.5"/>
<circle cx="390.8" cy="1194.1" r="2.5"/>
<circle cx="392.8" cy="1196.2" r="2.5"/>
<circle cx="394.8" cy="1197.5" r="2.5"/>
<circle cx="397.4" cy="1194.8" r="2.5"/>
<circle cx="398.8" cy="1198.8" r="2.5"/>
<circle cx="402.8" cy="1193.5" r="2.5"/>
<circle cx="406.1" cy="1195.5" r="2.5"/>
<circle cx="404.1" cy="1198.2" r="2.5"/>
<circle cx="406.8" cy="1192.8" r="2.5"/>
<circle cx="415.5" cy="1196.2" r="2.5"/>
<circle cx="418.8" cy="1196.8" r="2.5"/>
<circle cx="420.8" cy="1194.8" r="2.5"/>
<circle cx="426.6" cy="1195.8" r="2.5"/>
<circle cx="456.0" cy="1197.2" r="2.5"/>
<circle cx="464.5" cy="1200.2" r="2.5"/>
<circle cx="370.7" cy="1197.2" r="2.5"/>
<circle cx="345.3" cy="1199.5" r="2.5"/>
<circle cx="348.7" cy="1198.8" r="2.5"/>
<circle cx="352.0" cy="1197.5" r="2.5"/>
<circle cx="363.4" cy="1200.8" r="2.5"/>
<circle cx="368.1" cy="1202.8" r="2.5"/>
<circle cx="372.1" cy="1202.8" r="2.5"/>
<circle cx="374.7" cy="1204.2" r="2.5"/>
<circle cx="378.7" cy="1204.2" r="2.5"/>
<circle cx="366.7" cy="1205.5" r="2.5"/>
<circle cx="370.1" cy="1206.8" r="2.5"/>
<circle cx="382.8" cy="1205.5" r="2.5"/>
<circle cx="385.4" cy="1206.8" r="2.5"/>
<circle cx="388.1" cy="1205.5" r="2.5"/>
<circle cx="390.8" cy="1202.8" r="2.5"/>
<circle cx="402.8" cy="1203.5" r="2.5"/>
<circle cx="412.1" cy="1206.4" r="2.5"/>
<circle cx="457.6" cy="1204.2" r="2.5"/>
<circle cx="457.3" cy="1208.4" r="2.5"/>
<circle cx="441.9" cy="1207.1" r="2.5"/>
<circle cx="342.7" cy="1206.8" r="2.5"/>
<circle cx="342.0" cy="1212.2" r="2.5"/>
<circle cx="349.4" cy="1208.2" r="2.5"/>
<circle cx="355.4" cy="1210.2" r="2.5"/>
<circle cx="374.7" cy="1210.8" r="2.5"/>
<circle cx="376.1" cy="1213.5" r="2.5"/>
<circle cx="381.4" cy="1210.8" r="2.5"/>
<circle cx="384.1" cy="1213.5" r="2.5"/>
<circle cx="386.8" cy="1212.2" r="2.5"/>
<circle cx="390.8" cy="1210.8" r="2.5"/>
<circle cx="393.4" cy="1208.8" r="2.5"/>
<circle cx="394.1" cy="1212.2" r="2.5"/>
<circle cx="364.0" cy="1212.2" r="2.5"/>
<circle cx="366.7" cy="1213.5" r="2.5"/>
<circle cx="361.4" cy="1216.2" r="2.5"/>
<circle cx="365.4" cy="1216.2" r="2.5"/>
<circle cx="368.1" cy="1216.2" r="2.5"/>
<circle cx="372.1" cy="1216.2" r="2.5"/>
<circle cx="381.4" cy="1216.2" r="2.5"/>
<circle cx="385.4" cy="1216.2" r="2.5"/>
<circle cx="389.4" cy="1215.5" r="2.5"/>
<circle cx="406.8" cy="1214.2" r="2.5"/>
<circle cx="407.5" cy="1217.5" r="2.5"/>
<circle cx="413.5" cy="1218.9" r="2.5"/>
<circle cx="445.5" cy="1214.2" r="2.5"/>
<circle cx="440.2" cy="1216.2" r="2.5"/>
<circle cx="442.9" cy="1218.2" r="2.5"/>
<circle cx="465.6" cy="1210.8" r="2.5"/>
<circle cx="468.3" cy="1206.8" r="2.5"/>
<circle cx="348.0" cy="1218.2" r="2.5"/>
<circle cx="353.4" cy="1218.9" r="2.5"/>
<circle cx="358.7" cy="1218.2" r="2.5"/>
<circle cx="364.0" cy="1218.9" r="2.5"/>
<circle cx="470.0" cy="1129.4" r="2.5"/>
<circle cx="463.3" cy="1136.7" r="2.5"/>
<circle cx="469.4" cy="1135.4" r="2.5"/>
<circle cx="471.4" cy="1139.4" r="2.5"/>
<circle cx="484.0" cy="1132.7" r="2.5"/>
<circle cx="487.4" cy="1131.4" r="2.5"/>
<circle cx="488.7" cy="1135.8" r="2.5"/>
<circle cx="479.4" cy="1137.4" r="2.5"/>
<circle cx="478.0" cy="1139.4" r="2.5"/>
<circle cx="485.4" cy="1142.7" r="2.5"/>
<circle cx="480.0" cy="1146.1" r="2.5"/>
<circle cx="484.7" cy="1144.7" r="2.5"/>
<circle cx="503.4" cy="1140.3" r="2.5"/>
<circle cx="572.6" cy="1132.7" r="2.5"/>
<circle cx="533.5" cy="1143.4" r="2.5"/>
<circle cx="479.8" cy="1154.1" r="2.5"/>
<circle cx="488.7" cy="1155.4" r="2.5"/>
<circle cx="504.4" cy="1148.7" r="2.5"/>
<circle cx="504.1" cy="1155.4" r="2.5"/>
<circle cx="524.1" cy="1150.7" r="2.5"/>
<circle cx="515.4" cy="1156.7" r="2.5"/>
<circle cx="553.8" cy="1153.1" r="2.5"/>
<circle cx="562.2" cy="1154.7" r="2.5"/>
<circle cx="479.4" cy="1162.8" r="2.5"/>
<circle cx="480.7" cy="1166.1" r="2.5"/>
<circle cx="480.0" cy="1170.1" r="2.5"/>
<circle cx="488.1" cy="1161.4" r="2.5"/>
<circle cx="500.1" cy="1165.2" r="2.5"/>
<circle cx="509.2" cy="1163.0" r="2.5"/>
<circle cx="531.2" cy="1163.4" r="2.5"/>
<circle cx="530.8" cy="1168.4" r="2.5"/>
<circle cx="543.5" cy="1169.8" r="2.5"/>
<circle cx="549.8" cy="1168.1" r="2.5"/>
<circle cx="588.3" cy="1163.0" r="2.5"/>
<circle cx="588.9" cy="1176.1" r="2.5"/>
<circle cx="477.1" cy="1175.8" r="2.5"/>
<circle cx="478.7" cy="1186.8" r="2.5"/>
<circle cx="554.9" cy="1187.9" r="2.5"/>
<circle cx="486.5" cy="1193.2" r="2.5"/>
<circle cx="500.5" cy="1197.8" r="2.5"/>
<circle cx="496.1" cy="1202.2" r="2.5"/>
<circle cx="476.7" cy="1205.2" r="2.5"/>
<circle cx="470.7" cy="1208.4" r="2.5"/>
<circle cx="471.0" cy="1214.2" r="2.5"/>
<circle cx="489.0" cy="1210.4" r="2.5"/>
<circle cx="443.5" cy="1220.0" r="2.5"/>
<circle cx="625.6" cy="1155.0" r="2.5"/>
<circle cx="676.8" cy="1156.1" r="2.5"/>
<circle cx="487.8" cy="1229.8" r="2.5"/>
<circle cx="485.5" cy="1243.3" r="2.5"/>
<circle cx="259.4" cy="1195.5" r="2.5"/>
<circle cx="255.8" cy="1200.7" r="2.5"/>
<circle cx="284.6" cy="1196.0" r="2.5"/>
<circle cx="284.6" cy="1201.7" r="2.5"/>
<circle cx="304.1" cy="1198.6" r="2.5"/>
<circle cx="274.6" cy="1205.3" r="2.5"/>
<circle cx="338.0" cy="1197.6" r="2.5"/>
<circle cx="330.8" cy="1207.8" r="2.5"/>
<circle cx="336.3" cy="1210.4" r="2.5"/>
<circle cx="341.6" cy="1205.3" r="2.5"/>
<circle cx="342.6" cy="1210.4" r="2.5"/>
<circle cx="281.0" cy="1215.0" r="2.5"/>
<circle cx="283.0" cy="1214.0" r="2.5"/>
<circle cx="285.6" cy="1216.6" r="2.5"/>
<circle cx="295.4" cy="1213.0" r="2.5"/>
<circle cx="297.9" cy="1212.0" r="2.5"/>
<circle cx="260.1" cy="1221.5" r="2.5"/>
<circle cx="289.5" cy="1224.8" r="2.5"/>
<circle cx="316.4" cy="1216.6" r="2.5"/>
<circle cx="324.1" cy="1218.1" r="2.5"/>
<circle cx="328.8" cy="1216.1" r="2.5"/>
<circle cx="312.8" cy="1225.6" r="2.5"/>
<circle cx="319.0" cy="1224.8" r="2.5"/>
<circle cx="321.1" cy="1222.7" r="2.5"/>
<circle cx="255.3" cy="1236.1" r="2.5"/>
<circle cx="258.4" cy="1235.1" r="2.5"/>
<circle cx="261.4" cy="1232.5" r="2.5"/>
<circle cx="259.4" cy="1238.7" r="2.5"/>
<circle cx="269.2" cy="1239.0" r="2.5"/>
<circle cx="276.3" cy="1235.6" r="2.5"/>
<circle cx="279.4" cy="1240.2" r="2.5"/>
<circle cx="284.6" cy="1238.7" r="2.5"/>
<circle cx="290.7" cy="1238.2" r="2.5"/>
<circle cx="292.8" cy="1236.6" r="2.5"/>
<circle cx="302.6" cy="1234.4" r="2.5"/>
<circle cx="278.4" cy="1245.4" r="2.5"/>
<circle cx="293.1" cy="1245.9" r="2.5"/>
<circle cx="281.0" cy="1250.5" r="2.5"/>
<circle cx="265.3" cy="1249.3" r="2.5"/>
<circle cx="269.7" cy="1254.4" r="2.5"/>
<circle cx="275.3" cy="1254.1" r="2.5"/>
<circle cx="257.1" cy="1259.5" r="2.5"/>
<circle cx="266.6" cy="1260.3" r="2.5"/>
<circle cx="278.9" cy="1257.2" r="2.5"/>
<circle cx="276.9" cy="1259.7" r="2.5"/>
<circle cx="304.1" cy="1271.1" r="2.5"/>
<circle cx="309.7" cy="1270.5" r="2.5"/>
<circle cx="318.0" cy="1269.0" r="2.5"/>
<circle cx="318.0" cy="1271.6" r="2.5"/>
<circle cx="325.2" cy="1263.9" r="2.5"/>
<circle cx="328.2" cy="1256.7" r="2.5"/>
<circle cx="262.5" cy="1270.0" r="2.5"/>
<circle cx="261.4" cy="1272.6" r="2.5"/>
<circle cx="254.8" cy="1280.3" r="2.5"/>
<circle cx="255.3" cy="1282.4" r="2.5"/>
<circle cx="281.5" cy="1280.3" r="2.5"/>
<circle cx="338.0" cy="1191.2" r="2.5"/>
<circle cx="330.6" cy="1215.9" r="2.5"/>
<circle cx="339.9" cy="1220.2" r="2.5"/>
<circle cx="331.9" cy="1223.3" r="2.5"/>
<circle cx="346.0" cy="1220.8" r="2.5"/>
<circle cx="352.2" cy="1222.7" r="2.5"/>
<circle cx="355.9" cy="1220.8" r="2.5"/>
<circle cx="359.6" cy="1222.7" r="2.5"/>
<circle cx="369.5" cy="1217.8" r="2.5"/>
<circle cx="371.9" cy="1220.8" r="2.5"/>
<circle cx="347.3" cy="1225.8" r="2.5"/>
<circle cx="351.6" cy="1227.0" r="2.5"/>
<circle cx="355.9" cy="1225.8" r="2.5"/>
<circle cx="359.6" cy="1228.2" r="2.5"/>
<circle cx="362.7" cy="1230.7" r="2.5"/>
<circle cx="364.5" cy="1233.2" r="2.5"/>
<circle cx="367.6" cy="1226.4" r="2.5"/>
<circle cx="373.2" cy="1226.8" r="2.5"/>
<circle cx="379.3" cy="1222.3" r="2.5"/>
<circle cx="388.0" cy="1219.6" r="2.5"/>
<circle cx="391.1" cy="1222.1" r="2.5"/>
<circle cx="411.4" cy="1219.6" r="2.5"/>
<circle cx="410.2" cy="1223.3" r="2.5"/>
<circle cx="411.4" cy="1225.8" r="2.5"/>
<circle cx="412.6" cy="1229.5" r="2.5"/>
<circle cx="431.7" cy="1223.1" r="2.5"/>
<circle cx="438.5" cy="1219.0" r="2.5"/>
<circle cx="423.1" cy="1233.2" r="2.5"/>
<circle cx="427.4" cy="1233.2" r="2.5"/>
<circle cx="424.4" cy="1235.6" r="2.5"/>
<circle cx="391.7" cy="1229.5" r="2.5"/>
<circle cx="387.4" cy="1233.8" r="2.5"/>
<circle cx="400.1" cy="1236.6" r="2.5"/>
<circle cx="393.5" cy="1242.4" r="2.5"/>
<circle cx="399.1" cy="1243.0" r="2.5"/>
<circle cx="381.4" cy="1242.7" r="2.5"/>
<circle cx="407.7" cy="1244.0" r="2.5"/>
<circle cx="426.2" cy="1254.1" r="2.5"/>
<circle cx="367.0" cy="1238.1" r="2.5"/>
<circle cx="359.6" cy="1240.0" r="2.5"/>
<circle cx="356.5" cy="1243.0" r="2.5"/>
<circle cx="362.1" cy="1246.7" r="2.5"/>
<circle cx="370.7" cy="1245.5" r="2.5"/>
<circle cx="374.4" cy="1249.2" r="2.5"/>
<circle cx="367.0" cy="1253.8" r="2.5"/>
<circle cx="347.3" cy="1250.4" r="2.5"/>
<circle cx="347.9" cy="1255.4" r="2.5"/>
<circle cx="350.4" cy="1257.2" r="2.5"/>
<circle cx="357.1" cy="1256.6" r="2.5"/>
<circle cx="332.5" cy="1227.0" r="2.5"/>
<circle cx="336.2" cy="1228.2" r="2.5"/>
<circle cx="339.9" cy="1229.5" r="2.5"/>
<circle cx="333.7" cy="1233.2" r="2.5"/>
<circle cx="338.6" cy="1234.4" r="2.5"/>
<circle cx="342.3" cy="1233.2" r="2.5"/>
<circle cx="331.2" cy="1239.3" r="2.5"/>
<circle cx="336.2" cy="1239.3" r="2.5"/>
<circle cx="341.1" cy="1239.3" r="2.5"/>
<circle cx="332.5" cy="1244.3" r="2.5"/>
<circle cx="337.4" cy="1244.3" r="2.5"/>
<circle cx="341.7" cy="1243.6" r="2.5"/>
<circle cx="333.7" cy="1249.2" r="2.5"/>
<circle cx="337.4" cy="1248.6" r="2.5"/>
<circle cx="330.0" cy="1251.7" r="2.5"/>
<circle cx="347.3" cy="1236.9" r="2.5"/>
<circle cx="350.4" cy="1238.7" r="2.5"/>
<circle cx="346.0" cy="1241.2" r="2.5"/>
<circle cx="351.6" cy="1240.6" r="2.5"/>
<circle cx="354.7" cy="1236.9" r="2.5"/>
<circle cx="356.5" cy="1234.4" r="2.5"/>
<circle cx="352.2" cy="1230.7" r="2.5"/>
<circle cx="359.6" cy="1233.2" r="2.5"/>
<circle cx="343.6" cy="1236.9" r="2.5"/>
<circle cx="330.0" cy="1256.6" r="2.5"/>
<circle cx="379.3" cy="1214.7" r="2.5"/>
<circle cx="410.7" cy="1020.5" r="2.5"/>
<circle cx="280.4" cy="1080.8" r="2.5"/>
<circle cx="322.9" cy="1101.1" r="2.5"/>
<circle cx="333.3" cy="1098.1" r="2.5"/>
<circle cx="266.9" cy="1109.4" r="2.5"/>
<circle cx="257.3" cy="1115.8" r="2.5"/>
<circle cx="318.4" cy="1118.6" r="2.5"/>
<circle cx="300.3" cy="1127.6" r="2.5"/>
<circle cx="326.7" cy="1133.7" r="2.5"/>
<circle cx="334.5" cy="1142.0" r="2.5"/>
<circle cx="272.1" cy="1147.0" r="2.5"/>
<circle cx="321.5" cy="1145.8" r="2.5"/>
<circle cx="325.0" cy="1147.6" r="2.5"/>
<circle cx="315.4" cy="1151.0" r="2.5"/>
<circle cx="322.4" cy="1153.1" r="2.5"/>
<circle cx="295.1" cy="1154.5" r="2.5"/>
<circle cx="300.3" cy="1155.7" r="2.5"/>
<circle cx="257.0" cy="1162.3" r="2.5"/>
<circle cx="316.3" cy="1162.8" r="2.5"/>
<circle cx="263.4" cy="1167.5" r="2.5"/>
<circle cx="268.6" cy="1167.9" r="2.5"/>
<circle cx="272.6" cy="1169.2" r="2.5"/>
<circle cx="283.0" cy="1167.2" r="2.5"/>
<circle cx="326.4" cy="1169.2" r="2.5"/>
<circle cx="262.2" cy="1173.9" r="2.5"/>
<circle cx="299.0" cy="1171.0" r="2.5"/>
<circle cx="301.0" cy="1173.6" r="2.5"/>
<circle cx="296.9" cy="1177.6" r="2.5"/>
<circle cx="314.6" cy="1179.0" r="2.5"/>
<circle cx="283.0" cy="1187.1" r="2.5"/>
<circle cx="311.1" cy="1188.0" r="2.5"/>
<circle cx="300.3" cy="1192.1" r="2.5"/>
<circle cx="304.2" cy="1190.4" r="2.5"/>
<circle cx="305.4" cy="1258.1" r="2.5"/>
<circle cx="309.5" cy="1263.2" r="2.5"/>
<circle cx="316.7" cy="1261.2" r="2.5"/>
<circle cx="321.9" cy="1264.3" r="2.5"/>
<circle cx="313.6" cy="1256.1" r="2.5"/>
<circle cx="319.8" cy="1258.1" r="2.5"/>
</g>
<g fill="#000">
<circle cx="309.9" cy="1249.6" r="2.5"/>
<circle cx="275.5" cy="1268.5" r="2.5"/>
<circle cx="309.2" cy="1260.9" r="2.5"/>
<circle cx="261.4" cy="1282.7" r="2.5"/>
<circle cx="336.2" cy="1247.3" r="2.5"/>
<circle cx="280.3" cy="1278.1" r="2.5"/>
<circle cx="254.7" cy="1285.6" r="2.5"/>
<circle cx="295.4" cy="1256.1" r="2.5"/>
<circle cx="284.7" cy="1273.1" r="2.5"/>
<circle cx="268.9" cy="1270.5" r="2.5"/>
<circle cx="285.8" cy="1269.2" r="2.5"/>
<circle cx="281.4" cy="1264.0" r="2.5"/>
<circle cx="326.3" cy="1252.7" r="2.5"/>
<circle cx="302.8" cy="1260.6" r="2.5"/>
<circle cx="265.4" cy="1273.4" r="2.5"/>
<circle cx="283.7" cy="1270.8" r="2.5"/>
<circle cx="266.2" cy="1273.3" r="2.5"/>
<circle cx="309.9" cy="1246.3" r="2.5"/>
<circle cx="270.8" cy="1281.6" r="2.5"/>
<circle cx="257.5" cy="1284.2" r="2.5"/>
<circle cx="317.1" cy="1248.4" r="2.5"/>
<circle cx="258.3" cy="1282.3" r="2.5"/>
<circle cx="287.7" cy="1271.4" r="2.5"/>
<circle cx="324.5" cy="1235.1" r="2.5"/>
<circle cx="311.2" cy="1260.3" r="2.5"/>
<circle cx="338.2" cy="1243.8" r="2.5"/>
<circle cx="258.5" cy="1280.7" r="2.5"/>
<circle cx="273.3" cy="1268.8" r="2.5"/>
<circle cx="279.9" cy="1268.5" r="2.5"/>
<circle cx="332.7" cy="1247.3" r="2.5"/>
<circle cx="292.1" cy="1263.9" r="2.5"/>
<circle cx="253.5" cy="1285.7" r="2.5"/>
<circle cx="289.2" cy="1267.8" r="2.5"/>
<circle cx="333.0" cy="1247.9" r="2.5"/>
<circle cx="285.6" cy="1256.8" r="2.5"/>
<circle cx="286.6" cy="1270.4" r="2.5"/>
<circle cx="294.8" cy="1251.4" r="2.5"/>
<circle cx="304.7" cy="1261.6" r="2.5"/>
<circle cx="292.2" cy="1269.0" r="2.5"/>
<circle cx="262.2" cy="1280.8" r="2.5"/>
<circle cx="329.3" cy="1249.6" r="2.5"/>
<circle cx="324.5" cy="1229.9" r="2.5"/>
<circle cx="260.7" cy="1273.9" r="2.5"/>
<circle cx="329.8" cy="1225.8" r="2.5"/>
<circle cx="343.1" cy="1212.8" r="2.5"/>
<circle cx="315.2" cy="1243.9" r="2.5"/>
<circle cx="260.8" cy="1280.0" r="2.5"/>
<circle cx="299.3" cy="1256.2" r="2.5"/>
<circle cx="263.1" cy="1272.5" r="2.5"/>
<circle cx="316.0" cy="1238.1" r="2.5"/>
<circle cx="275.7" cy="1266.3" r="2.5"/>
<circle cx="340.3" cy="1216.5" r="2.5"/>
<circle cx="271.9" cy="1270.8" r="2.5"/>
<circle cx="264.5" cy="1269.0" r="2.5"/>
<circle cx="320.9" cy="1248.6" r="2.5"/>
<circle cx="267.1" cy="1267.5" r="2.5"/>
<circle cx="276.3" cy="1274.3" r="2.5"/>
<circle cx="270.3" cy="1277.9" r="2.5"/>
<circle cx="338.1" cy="1223.0" r="2.5"/>
<circle cx="286.5" cy="1260.7" r="2.5"/>
<circle cx="273.8" cy="1269.6" r="2.5"/>
<circle cx="325.6" cy="1230.9" r="2.5"/>
<circle cx="307.2" cy="1245.1" r="2.5"/>
<circle cx="286.0" cy="1262.7" r="2.5"/>
<circle cx="259.0" cy="1281.5" r="2.5"/>
<circle cx="297.6" cy="1251.6" r="2.5"/>
<circle cx="272.0" cy="1270.3" r="2.5"/>
<circle cx="329.3" cy="1240.3" r="2.5"/>
<circle cx="277.0" cy="1271.3" r="2.5"/>
<circle cx="326.2" cy="1235.2" r="2.5"/>
<circle cx="265.6" cy="1269.2" r="2.5"/>
<circle cx="274.9" cy="1272.1" r="2.5"/>
<circle cx="270.9" cy="1274.0" r="2.5"/>
<circle cx="299.2" cy="1256.2" r="2.5"/>
<circle cx="269.0" cy="1266.2" r="2.5"/>
<circle cx="304.1" cy="1249.2" r="2.5"/>
<circle cx="296.5" cy="1260.6" r="2.5"/>
<circle cx="316.4" cy="1246.0" r="2.5"/>
<circle cx="292.4" cy="1266.5" r="2.5"/>
<circle cx="326.3" cy="1251.3" r="2.5"/>
<circle cx="276.3" cy="1271.9" r="2.5"/>
<circle cx="284.9" cy="1267.9" r="2.5"/>
<circle cx="273.8" cy="1274.2" r="2.5"/>
<circle cx="286.6" cy="1271.5" r="2.5"/>
<circle cx="330.3" cy="1225.4" r="2.5"/>
<circle cx="294.2" cy="1266.9" r="2.5"/>
<circle cx="333.0" cy="1223.5" r="2.5"/>
<circle cx="294.2" cy="1268.6" r="2.5"/>
<circle cx="312.7" cy="1249.8" r="2.5"/>
<circle cx="288.6" cy="1264.1" r="2.5"/>
<circle cx="282.9" cy="1263.2" r="2.5"/>
<circle cx="312.7" cy="1249.6" r="2.5"/>
<circle cx="287.0" cy="1267.4" r="2.5"/>
<circle cx="326.0" cy="1225.1" r="2.5"/>
<circle cx="313.7" cy="1254.2" r="2.5"/>
<circle cx="324.0" cy="1243.0" r="2.5"/>
<circle cx="277.7" cy="1271.8" r="2.5"/>
<circle cx="326.5" cy="1224.8" r="2.5"/>
<circle cx="262.0" cy="1284.5" r="2.5"/>
<circle cx="318.9" cy="1242.4" r="2.5"/>
<circle cx="281.6" cy="1268.7" r="2.5"/>
<circle cx="290.7" cy="1257.4" r="2.5"/>
<circle cx="282.3" cy="1271.7" r="2.5"/>
<circle cx="316.3" cy="1239.1" r="2.5"/>
<circle cx="283.7" cy="1269.1" r="2.5"/>
<circle cx="286.8" cy="1265.1" r="2.5"/>
<circle cx="280.6" cy="1270.9" r="2.5"/>
<circle cx="273.9" cy="1275.9" r="2.5"/>
<circle cx="272.7" cy="1270.8" r="2.5"/>
<circle cx="329.1" cy="1226.0" r="2.5"/>
<circle cx="282.2" cy="1271.6" r="2.5"/>
<circle cx="258.8" cy="1283.5" r="2.5"/>
<circle cx="328.2" cy="1246.2" r="2.5"/>
<circle cx="299.0" cy="1256.2" r="2.5"/>
<circle cx="324.2" cy="1237.6" r="2.5"/>
<circle cx="273.1" cy="1279.5" r="2.5"/>
<circle cx="262.0" cy="1272.6" r="2.5"/>
<circle cx="270.9" cy="1273.0" r="2.5"/>
<circle cx="294.3" cy="1255.0" r="2.5"/>
<circle cx="323.2" cy="1229.0" r="2.5"/>
<circle cx="327.7" cy="1253.5" r="2.5"/>
<circle cx="294.4" cy="1267.1" r="2.5"/>
<circle cx="339.1" cy="1237.3" r="2.5"/>
<circle cx="322.9" cy="1232.6" r="2.5"/>
<circle cx="343.3" cy="1220.2" r="2.5"/>
<circle cx="317.3" cy="1255.5" r="2.5"/>
<circle cx="326.9" cy="1249.1" r="2.5"/>
<circle cx="327.8" cy="1224.9" r="2.5"/>
<circle cx="334.5" cy="1219.1" r="2.5"/>
<circle cx="301.6" cy="1251.4" r="2.5"/>
<circle cx="328.7" cy="1231.3" r="2.5"/>
<circle cx="303.1" cy="1261.9" r="2.5"/>
<circle cx="272.1" cy="1278.4" r="2.5"/>
<circle cx="266.6" cy="1268.7" r="2.5"/>
<circle cx="268.0" cy="1266.9" r="2.5"/>
<circle cx="266.7" cy="1274.1" r="2.5"/>
<circle cx="289.4" cy="1270.3" r="2.5"/>
<circle cx="319.8" cy="1257.7" r="2.5"/>
<circle cx="328.2" cy="1228.9" r="2.5"/>
<circle cx="338.6" cy="1228.5" r="2.5"/>
<circle cx="279.0" cy="1268.4" r="2.5"/>
<circle cx="322.7" cy="1254.8" r="2.5"/>
<circle cx="318.7" cy="1245.0" r="2.5"/>
<circle cx="276.5" cy="1273.1" r="2.5"/>
<circle cx="294.2" cy="1250.8" r="2.5"/>
<circle cx="315.4" cy="1252.3" r="2.5"/>
<circle cx="318.2" cy="1242.7" r="2.5"/>
<circle cx="335.8" cy="1245.7" r="2.5"/>
<circle cx="326.9" cy="1231.5" r="2.5"/>
<circle cx="289.4" cy="1253.5" r="2.5"/>
<circle cx="272.7" cy="1272.8" r="2.5"/>
<circle cx="294.7" cy="1258.6" r="2.5"/>
<circle cx="341.9" cy="1227.1" r="2.5"/>
<circle cx="259.1" cy="1285.0" r="2.5"/>
<circle cx="316.9" cy="1235.3" r="2.5"/>
<circle cx="334.6" cy="1220.2" r="2.5"/>
<circle cx="344.1" cy="1223.2" r="2.5"/>
<circle cx="314.3" cy="1237.2" r="2.5"/>
<circle cx="275.2" cy="1272.8" r="2.5"/>
<circle cx="334.7" cy="1248.6" r="2.5"/>
<circle cx="325.4" cy="1236.9" r="2.5"/>
<circle cx="320.9" cy="1247.9" r="2.5"/>
<circle cx="271.4" cy="1281.3" r="2.5"/>
<circle cx="304.0" cy="1257.9" r="2.5"/>
<circle cx="295.4" cy="1267.0" r="2.5"/>
<circle cx="340.1" cy="1226.6" r="2.5"/>
<circle cx="327.8" cy="1234.7" r="2.5"/>
<circle cx="290.4" cy="1267.2" r="2.5"/>
<circle cx="275.6" cy="1272.2" r="2.5"/>
<circle cx="335.9" cy="1233.4" r="2.5"/>
<circle cx="326.7" cy="1242.6" r="2.5"/>
<circle cx="312.6" cy="1242.3" r="2.5"/>
<circle cx="285.9" cy="1260.6" r="2.5"/>
<circle cx="276.6" cy="1277.3" r="2.5"/>
<circle cx="279.3" cy="1274.8" r="2.5"/>
<circle cx="313.4" cy="1250.4" r="2.5"/>
<circle cx="289.5" cy="1265.0" r="2.5"/>
<circle cx="342.1" cy="1223.0" r="2.5"/>
<circle cx="331.7" cy="1250.0" r="2.5"/>
<circle cx="299.9" cy="1261.4" r="2.5"/>
<circle cx="300.9" cy="1263.0" r="2.5"/>
<circle cx="253.6" cy="1288.1" r="2.5"/>
<circle cx="265.5" cy="1270.4" r="2.5"/>
<circle cx="319.3" cy="1255.8" r="2.5"/>
<circle cx="278.9" cy="1270.4" r="2.5"/>
<circle cx="256.8" cy="1277.8" r="2.5"/>
<circle cx="260.1" cy="1276.7" r="2.5"/>
<circle cx="262.9" cy="1282.3" r="2.5"/>
<circle cx="295.4" cy="1264.3" r="2.5"/>
<circle cx="278.8" cy="1276.3" r="2.5"/>
<circle cx="254.5" cy="1288.1" r="2.5"/>
<circle cx="316.3" cy="1259.1" r="2.5"/>
<circle cx="327.2" cy="1232.8" r="2.5"/>
<circle cx="305.8" cy="1257.0" r="2.5"/>
<circle cx="310.0" cy="1251.5" r="2.5"/>
<circle cx="291.0" cy="1262.2" r="2.5"/>
<circle cx="262.7" cy="1275.4" r="2.5"/>
<circle cx="286.6" cy="1266.9" r="2.5"/>
<circle cx="283.8" cy="1269.2" r="2.5"/>
<circle cx="316.7" cy="1252.7" r="2.5"/>
<circle cx="327.1" cy="1234.4" r="2.5"/>
<circle cx="278.6" cy="1266.9" r="2.5"/>
<circle cx="287.7" cy="1261.8" r="2.5"/>
<circle cx="320.1" cy="1240.9" r="2.5"/>
<circle cx="287.0" cy="1254.7" r="2.5"/>
<circle cx="314.6" cy="1247.5" r="2.5"/>
<circle cx="291.6" cy="1257.6" r="2.5"/>
<circle cx="292.9" cy="1260.7" r="2.5"/>
<circle cx="262.7" cy="1278.5" r="2.5"/>
<circle cx="284.1" cy="1273.7" r="2.5"/>
<circle cx="268.8" cy="1278.5" r="2.5"/>
<circle cx="302.2" cy="1255.8" r="2.5"/>
<circle cx="335.6" cy="1233.2" r="2.5"/>
<circle cx="317.6" cy="1236.8" r="2.5"/>
<circle cx="291.1" cy="1257.2" r="2.5"/>
<circle cx="321.8" cy="1248.9" r="2.5"/>
<circle cx="267.6" cy="1281.1" r="2.5"/>
<circle cx="337.6" cy="1241.0" r="2.5"/>
<circle cx="287.5" cy="1260.6" r="2.5"/>
<circle cx="304.4" cy="1258.8" r="2.5"/>
<circle cx="295.4" cy="1254.9" r="2.5"/>
<circle cx="287.2" cy="1273.4" r="2.5"/>
<circle cx="338.8" cy="1218.8" r="2.5"/>
<circle cx="304.5" cy="1253.6" r="2.5"/>
<circle cx="273.3" cy="1272.4" r="2.5"/>
<circle cx="272.8" cy="1268.7" r="2.5"/>
<circle cx="263.4" cy="1272.5" r="2.5"/>
<circle cx="264.6" cy="1281.0" r="2.5"/>
<circle cx="308.1" cy="1252.2" r="2.5"/>
<circle cx="340.7" cy="1237.4" r="2.5"/>
<circle cx="324.2" cy="1225.3" r="2.5"/>
<circle cx="302.9" cy="1262.0" r="2.5"/>
<circle cx="258.7" cy="1283.8" r="2.5"/>
<circle cx="343.6" cy="1232.7" r="2.5"/>
<circle cx="323.4" cy="1239.2" r="2.5"/>
<circle cx="278.7" cy="1269.5" r="2.5"/>
<circle cx="282.8" cy="1261.5" r="2.5"/>
<circle cx="295.3" cy="1260.7" r="2.5"/>
<circle cx="291.9" cy="1254.0" r="2.5"/>
<circle cx="324.0" cy="1251.0" r="2.5"/>
<circle cx="285.7" cy="1260.2" r="2.5"/>
<circle cx="288.2" cy="1263.3" r="2.5"/>
<circle cx="310.9" cy="1253.1" r="2.5"/>
<circle cx="276.4" cy="1270.8" r="2.5"/>
<circle cx="266.5" cy="1270.0" r="2.5"/>
<circle cx="311.8" cy="1257.6" r="2.5"/>
<circle cx="270.5" cy="1273.9" r="2.5"/>
<circle cx="274.6" cy="1267.9" r="2.5"/>
<circle cx="313.7" cy="1239.8" r="2.5"/>
<circle cx="307.2" cy="1251.2" r="2.5"/>
<circle cx="317.7" cy="1258.1" r="2.5"/>
<circle cx="305.2" cy="1247.7" r="2.5"/>
<circle cx="311.3" cy="1249.7" r="2.5"/>
<circle cx="330.9" cy="1233.9" r="2.5"/>
<circle cx="324.4" cy="1234.9" r="2.5"/>
<circle cx="278.7" cy="1271.3" r="2.5"/>
<circle cx="280.3" cy="1264.5" r="2.5"/>
<circle cx="311.0" cy="1252.3" r="2.5"/>
<circle cx="258.8" cy="1283.3" r="2.5"/>
<circle cx="302.0" cy="1250.7" r="2.5"/>
<circle cx="262.8" cy="1281.7" r="2.5"/>
<circle cx="290.8" cy="1254.6" r="2.5"/>
<circle cx="308.8" cy="1258.2" r="2.5"/>
<circle cx="283.6" cy="1274.1" r="2.5"/>
<circle cx="298.2" cy="1249.2" r="2.5"/>
<circle cx="334.3" cy="1232.2" r="2.5"/>
<circle cx="287.1" cy="1268.9" r="2.5"/>
<circle cx="332.4" cy="1231.5" r="2.5"/>
<circle cx="318.4" cy="1256.6" r="2.5"/>
<circle cx="269.0" cy="1270.8" r="2.5"/>
<circle cx="322.0" cy="1248.7" r="2.5"/>
<circle cx="268.4" cy="1275.9" r="2.5"/>
<circle cx="330.2" cy="1244.1" r="2.5"/>
<circle cx="271.5" cy="1274.4" r="2.5"/>
<circle cx="290.3" cy="1256.3" r="2.5"/>
<circle cx="313.8" cy="1248.8" r="2.5"/>
<circle cx="263.6" cy="1275.2" r="2.5"/>
<circle cx="320.1" cy="1257.3" r="2.5"/>
<circle cx="286.5" cy="1267.8" r="2.5"/>
<circle cx="306.2" cy="1258.7" r="2.5"/>
<circle cx="331.2" cy="1246.1" r="2.5"/>
<circle cx="278.3" cy="1279.4" r="2.5"/>
<circle cx="305.4" cy="1260.3" r="2.5"/>
<circle cx="295.7" cy="1261.5" r="2.5"/>
<circle cx="260.3" cy="1280.8" r="2.5"/>
<circle cx="292.3" cy="1265.0" r="2.5"/>
<circle cx="340.9" cy="1224.9" r="2.5"/>
<circle cx="291.9" cy="1252.1" r="2.5"/>
<circle cx="341.2" cy="1241.1" r="2.5"/>
<circle cx="314.1" cy="1238.6" r="2.5"/>
</g>
</g></svg>
</body></html>
